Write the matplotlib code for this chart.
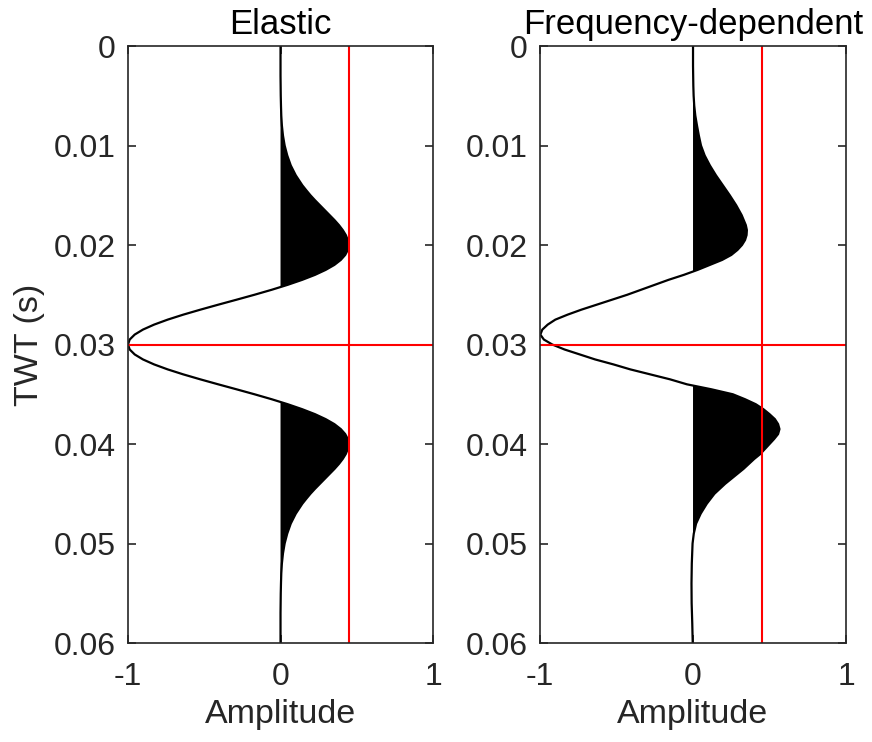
import matplotlib
matplotlib.use("Agg")
import matplotlib.pyplot as plt
import numpy as np

plt.rcParams['font.family'] = ['Liberation Sans', 'DejaVu Sans']

# ---- data ----
titles = ["Elastic", "Frequency-dependent"]
xlabel_text = "Amplitude"
ylabel_text = "TWT (s)"
xticks = [-1, 0, 1]
xtick_labels = ["-1", "0", "1"]
yticks = [0, 0.01, 0.02, 0.03, 0.04, 0.05, 0.06]
ytick_labels = ["0", "0.01", "0.02", "0.03", "0.04", "0.05", "0.06"]

ref_amplitude = 0.45   # red vertical line
ref_time = 0.03        # red horizontal line

elastic_t = [0.000, 0.003, 0.005, 0.006, 0.007, 0.008, 0.009, 0.010, 0.011, 0.012,
             0.013, 0.014, 0.0145, 0.015, 0.0155, 0.016, 0.0165, 0.017, 0.0175, 0.018,
             0.0185, 0.019, 0.0195, 0.020, 0.0205, 0.021, 0.0215, 0.022, 0.0225, 0.023,
             0.0235, 0.024, 0.0245, 0.025, 0.0255, 0.026, 0.0265, 0.027, 0.0275, 0.028,
             0.0285, 0.029, 0.0295, 0.030, 0.0305, 0.031, 0.0315, 0.032, 0.0325, 0.033,
             0.0335, 0.034, 0.0345, 0.035, 0.0355, 0.036, 0.0365, 0.037, 0.0375, 0.038,
             0.0385, 0.039, 0.0395, 0.040, 0.0405, 0.041, 0.0415, 0.042, 0.0425, 0.043,
             0.0435, 0.044, 0.0445, 0.045, 0.0455, 0.046, 0.047, 0.048, 0.049, 0.050,
             0.051, 0.052, 0.053, 0.054, 0.055, 0.057, 0.060]
elastic_amp = [0.0, 0.0, 0.0015, 0.003, 0.005, 0.009, 0.016, 0.027, 0.044, 0.067,
               0.100, 0.143, 0.169, 0.196, 0.226, 0.258, 0.290, 0.322, 0.354, 0.383,
               0.408, 0.428, 0.441, 0.446, 0.441, 0.424, 0.395, 0.353, 0.296, 0.226,
               0.142, 0.047, -0.058, -0.171, -0.289, -0.409, -0.526, -0.638, -0.740, -0.829,
               -0.902, -0.956, -0.989, -1.0, -0.989, -0.956, -0.902, -0.829, -0.740, -0.638,
               -0.526, -0.409, -0.289, -0.171, -0.058, 0.047, 0.142, 0.226, 0.296, 0.353,
               0.395, 0.424, 0.441, 0.446, 0.441, 0.428, 0.408, 0.383, 0.354, 0.322,
               0.290, 0.258, 0.226, 0.196, 0.169, 0.143, 0.100, 0.067, 0.044, 0.027,
               0.016, 0.009, 0.005, 0.003, 0.0015, 0.0, 0.0]

freq_t = [0.000, 0.002, 0.004, 0.005, 0.006, 0.007, 0.008, 0.009, 0.010, 0.011,
          0.012, 0.013, 0.014, 0.015, 0.016, 0.017, 0.018, 0.0185, 0.019, 0.0195,
          0.020, 0.0205, 0.021, 0.0215, 0.022, 0.0225, 0.023, 0.0235, 0.024, 0.0245,
          0.025, 0.0255, 0.026, 0.0265, 0.027, 0.0275, 0.028, 0.0285, 0.029, 0.0295,
          0.030, 0.0305, 0.031, 0.0315, 0.032, 0.0325, 0.033, 0.0335, 0.034, 0.0345,
          0.035, 0.0355, 0.036, 0.0365, 0.037, 0.0375, 0.038, 0.0385, 0.039, 0.0395,
          0.040, 0.0405, 0.041, 0.0415, 0.042, 0.0425, 0.043, 0.0435, 0.044, 0.045,
          0.046, 0.047, 0.048, 0.049, 0.050, 0.052, 0.054, 0.056, 0.058, 0.060]
freq_amp = [0.0, 0.0, 0.002, 0.004, 0.008, 0.015, 0.026, 0.038, 0.052, 0.076,
            0.110, 0.150, 0.195, 0.240, 0.282, 0.318, 0.345, 0.352, 0.350, 0.340,
            0.320, 0.290, 0.250, 0.190, 0.110, 0.030, -0.060, -0.160, -0.250, -0.340,
            -0.430, -0.530, -0.630, -0.730, -0.820, -0.900, -0.950, -0.985, -0.998, -0.975,
            -0.920, -0.840, -0.740, -0.640, -0.520, -0.410, -0.280, -0.150, -0.040, 0.120,
            0.260, 0.340, 0.410, 0.460, 0.500, 0.535, 0.556, 0.565, 0.556, 0.530,
            0.500, 0.470, 0.440, 0.400, 0.365, 0.330, 0.290, 0.250, 0.210, 0.140,
            0.090, 0.050, 0.020, 0.005, -0.003, -0.008, -0.010, -0.009, -0.005, -0.002]

traces = [(elastic_t, elastic_amp), (freq_t, freq_amp)]

# ---- figure ----
fig = plt.figure(figsize=(8.72, 7.42), dpi=100)
axes_rects = [[0.1468, 0.1334, 0.3498, 0.8046], [0.6193, 0.1334, 0.3509, 0.8046]]
box_color = "#262626"

for i, (rect, (t, a)) in enumerate(zip(axes_rects, traces)):
    ax = fig.add_axes(rect)
    t = np.asarray(t)
    a = np.asarray(a)
    ax.fill_betweenx(t, 0, a, where=a > 0, interpolate=True, color="black", linewidth=0)
    ax.plot(a, t, color="black", linewidth=1.6)
    ax.axvline(ref_amplitude, color="#ff0000", linewidth=1.5)
    ax.axhline(ref_time, color="#ff0000", linewidth=1.5)
    ax.set_xlim(-1, 1)
    ax.set_ylim(0.06, 0)
    ax.set_xticks(xticks)
    ax.set_xticklabels(xtick_labels)
    ax.set_yticks(yticks)
    ax.set_yticklabels(ytick_labels)
    ax.tick_params(axis="both", direction="in", length=6, width=1.2, color=box_color,
                   labelsize=23, labelcolor="#262626", top=True, right=True)
    ax.tick_params(axis="y", pad=9)
    ax.tick_params(axis="x", pad=14)
    for sp in ax.spines.values():
        sp.set_color(box_color)
        sp.set_linewidth(1.2)
    ax.set_title(titles[i], fontsize=25, color="black", pad=8.5)
    ax.set_xlabel(xlabel_text, fontsize=24.5, color="#262626", labelpad=5)
    if i == 0:
        ax.set_ylabel(ylabel_text, fontsize=24.5, color="#262626", labelpad=6)

fig.savefig("out.png", dpi=100, facecolor="white")
